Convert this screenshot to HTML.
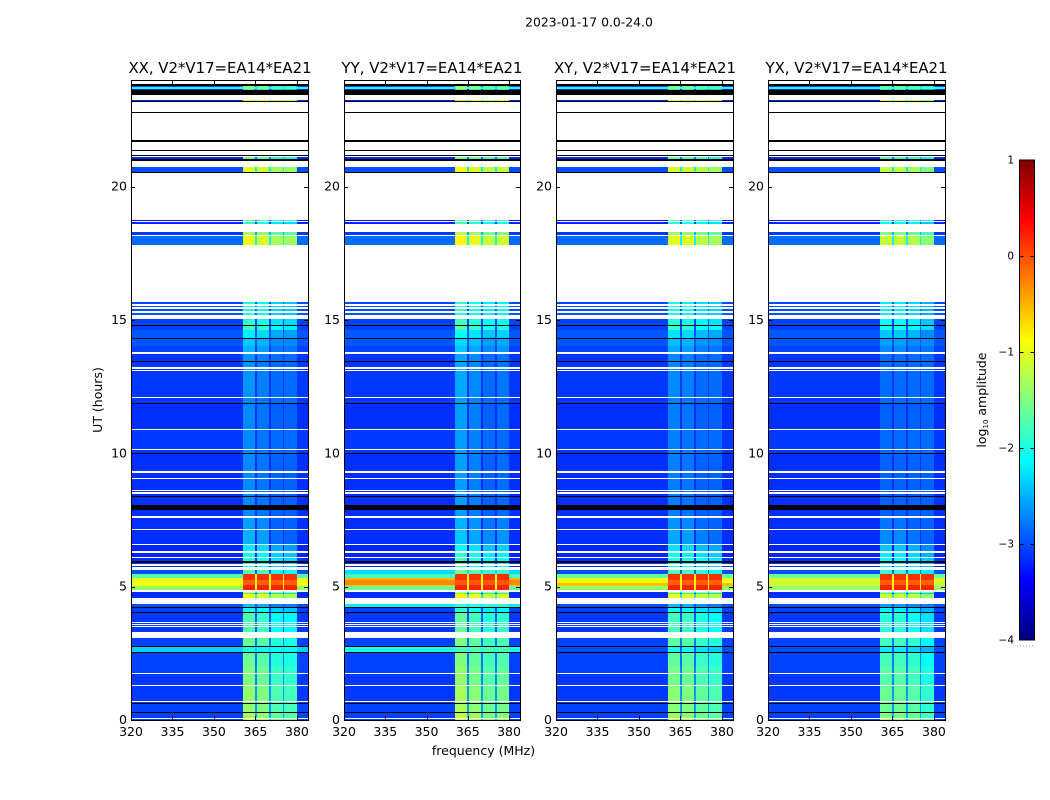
<!DOCTYPE html>
<html>
<head>
<meta charset="utf-8">
<title>2023-01-17 spectrogram</title>
<style>
html,body{margin:0;padding:0;background:#fff;width:1050px;height:800px;overflow:hidden}
svg{display:block}
text{font-family:"DejaVu Sans","Liberation Sans",sans-serif;fill:#000}
</style>
</head>
<body>
<svg id="chart" width="1050" height="800" viewBox="0 0 1050 800" xmlns="http://www.w3.org/2000/svg">
  <defs><linearGradient id="jetGrad" x1="0" y1="1" x2="0" y2="0"></linearGradient></defs>
  <text x="589" y="26.5" font-size="12.4" text-anchor="middle">2023-01-17 0.0-24.0</text>
  <text x="220" y="73" font-size="14.9" text-anchor="middle">XX, V2*V17=EA14*EA21</text>
  <text x="432" y="73" font-size="14.9" text-anchor="middle">YY, V2*V17=EA14*EA21</text>
  <text x="645" y="73" font-size="14.9" text-anchor="middle">XY, V2*V17=EA14*EA21</text>
  <text x="856.5" y="73" font-size="14.9" text-anchor="middle">YX, V2*V17=EA14*EA21</text>
  <text transform="translate(102,400) rotate(-90)" font-size="12.5" text-anchor="middle">UT (hours)</text>
  <text x="483.5" y="755" font-size="12.5" text-anchor="middle">frequency (MHz)</text>
  <text transform="translate(986,400) rotate(-90)" font-size="12.5" text-anchor="middle">log<tspan font-size="7" dy="2">10</tspan><tspan dy="-2"> amplitude</tspan></text>
  <g id="panels"></g>
  <g id="colorbar"></g>
</svg>
<script>
// ---- chart data ----
const W = null;   // flagged (white)
const K = -9;     // zero amplitude (black)

// frequency axis
const freqTicks = [320, 335, 350, 365, 380];
const freqMin = 320;
const freqMax = 384;
// frequency segment edges in MHz
const freqEdges = [320, 360.5, 364.9, 365.5, 369.9, 370.5, 374.9, 375.5, 379.9, 384];
// segment role: -1 quiet background, 0..3 RFI sub-band, 9 gap between sub-bands
const freqRoles = [-1, 0, 9, 1, 9, 2, 9, 3, -1];

// time axis
const utTicks = [0, 5, 10, 15, 20];
const utMin = 0;
const utMax = 24;

// top edge (UT hours) of every time band, top of plot to bottom
const bandTopUT = [
 24.00,23.85,23.79,23.72,23.68,23.63,23.44,23.25,23.21,23.18,
 22.80,22.76,21.75,21.69,21.38,21.34,21.19,21.15,21.11,21.02,
 20.96,20.74,20.55,20.51,18.75,18.70,18.68,18.60,18.30,18.19,
 18.15,17.83,15.66,15.60,15.53,15.48,15.42,15.33,15.27,15.19,
 15.04,14.81,14.78,14.64,14.61,14.33,14.29,14.04,14.01,13.80,
 13.71,13.46,13.43,13.22,13.18,13.13,13.09,12.11,12.08,11.88,
 11.84,10.90,10.86,10.15,10.11,10.01,9.96,9.32,9.28,9.06,
 9.03,8.63,8.58,8.54,8.49,8.40,8.36,8.06,7.88,7.64,
 7.59,7.15,7.11,6.60,6.56,6.32,6.28,6.11,6.08,5.96,
 5.89,5.85,5.79,5.74,5.63,5.49,5.46,5.33,5.25,5.14,
 5.06,5.03,4.86,4.81,4.76,4.73,4.57,4.35,4.24,4.20,
 4.05,4.01,3.68,3.65,3.60,3.57,3.51,3.47,3.31,3.09,
 2.78,2.73,2.56,2.51,2.23,2.20,2.04,2.01,1.77,1.73,
 1.31,1.28,0.71,0.67,0.64,0.60,0.30,0.26,0.09,0.05
];
// log10 amplitude of the quiet part of the band
const bandBg = [
 W,K,-3,-1.9,-3.2,K,W,-3.2,K,W,
 K,W,K,W,K,W,K,W,-3.2,K,
 W,-3,K,W,-3.3,W,-3.2,W,-3.1,W,
 -2.85,W,-3,W,-3,W,-3,W,-2.95,W,
 -3.05,K,-3.05,W,-2.95,K,-2.95,K,-3.05,W,
 -3.1,K,-3.1,W,-3.15,W,-3.1,W,-3.1,K,
 -3.15,W,-3.1,W,-3.1,K,-3.15,W,-3.15,W,
 -3.15,W,-3.15,W,-3.15,K,-3.15,K,-3.15,W,
 -3.15,W,-3.15,W,-3.2,W,-3.2,W,-3.15,K,
 -3.15,W,-3.15,W,-3,K,-1.7,-1,-1,-.9,
 -.9,-1.4,W,-3.15,-3.2,-3.15,W,-3,K,-3.05,
 K,-3.1,W,-3.1,W,-3.1,W,-3.1,W,-3.05,
 K,-2.35,K,-3.05,W,-3.05,W,-3.05,W,-3.1,
 W,-3.1,W,-3.05,K,-3.05,K,-3.05,W,-3.05
];
// log10 amplitude of the 360-380 MHz interference block
const bandRfi = [
 W,K,-1.6,-1.3,-2,K,W,-.8,K,W,
 K,W,K,W,K,W,K,W,-1.6,K,
 W,-1,K,W,-1.7,W,-1.9,W,-1.3,W,
 -.95,W,-2,W,-2,W,-2,W,-2,W,
 -1.9,K,-1.8,W,-2.2,K,-2.4,K,-2.5,W,
 -2.65,K,-2.65,W,-2.65,W,-2.65,W,-2.7,K,
 -2.7,W,-2.7,W,-2.7,K,-2.7,W,-2.7,W,
 -2.7,W,-2.7,W,-2.7,K,-2.7,K,-2.7,W,
 -2.6,W,-2.5,W,-2.2,W,-2,W,-1.9,K,
 -1.9,W,-2,W,-1.7,K,.15,.15,-.1,-.1,
 .2,.2,W,-.95,-1.9,-.9,W,-2.4,K,-2,
 K,-1.75,W,-1.75,W,-1.75,W,-1.75,W,-1.6,
 K,-2,K,-1.6,W,-1.6,W,-1.5,W,-1.5,
 W,-1.4,W,-1.4,K,-1.4,K,-1.3,W,-1.2
];
// per-polarisation sub-band offsets (log10)
const subbandXX = [0, -.1, -.35, -.4];
const subbandYY = [.1, -.05, -.2, -.15];
const subbandXY = [-.05, -.1, -.25, -.35];
const subbandYX = [-.2, -.2, -.3, -.5];
// per-polarisation background overrides: UT inside a band, level
const overrideYY = [[5.6,-2.3],[5.4,-1.8],[5.3,-.5],[5.2,-.3],[5.1,-.3],[5.05,-.6],[4.95,-1.6],[4.3,-2.2],[2.65,-2.0]];
const overrideXY = [[5.4,-1.6],[5.3,-1.0],[5.2,-.9],[5.1,-.55],[5.05,-.6],[2.65,-3]];
const overrideYX = [[5.4,-1.6],[5.3,-1.1],[5.2,-1.1],[5.1,-1.1],[5.05,-1.2],[2.65,-3]];
const overrideXX = [];
const polNames = ['xx', 'yy', 'xy', 'yx'];

// colorbar
const cbarTicks = [1, 0, -1, -2, -3, -4];
const cbarMin = -4;
const cbarMax = 1;

// ---- layout ----
const panelLefts = [131, 344, 556, 768];
const panelWidths = [177, 176, 177, 177];
const plotTop = 80, plotBottom = 720;
const SVGNS = 'http://www.w3.org/2000/svg';
const panelsG = document.getElementById('panels');
const cbarG = document.getElementById('colorbar');

function make(tag, attrs, parent) {
  const el = document.createElementNS(SVGNS, tag);
  for (const k in attrs) el.setAttribute(k, attrs[k]);
  parent.appendChild(el);
  return el;
}
function xScale(left, width, f) { return left + (f - freqMin) / (freqMax - freqMin) * width; }
function yScale(ut) { return plotBottom - (ut - utMin) / (utMax - utMin) * (plotBottom - plotTop); }
function jetChan(x) { return Math.max(0, Math.min(1, 1.5 - Math.abs(4 * x))); }
function jet(t) {
  t = Math.max(0, Math.min(1, t));
  const r = jetChan(t - .75), g = jetChan(t - .5), b = jetChan(t - .25);
  return 'rgb(' + Math.round(r * 255) + ',' + Math.round(g * 255) + ',' + Math.round(b * 255) + ')';
}
function levelColor(v) {
  if (v === K) return '#000';
  return jet((v - cbarMin) / (cbarMax - cbarMin));
}
function bgFor(overrides, i) {
  const top = bandTopUT[i];
  const bottom = i + 1 < bandTopUT.length ? bandTopUT[i + 1] : 0;
  for (const o of overrides) if (o[0] <= top && o[0] > bottom) return o[1];
  return bandBg[i];
}

const subbandsByPanel = [subbandXX, subbandYY, subbandXY, subbandYX];
const overridesByPanel = [overrideXX, overrideYY, overrideXY, overrideYX];

panelLefts.forEach(function (left, p) {
  const width = panelWidths[p];
  const g = make('g', {}, panelsG);
  
  
  for (let i = 0; i < bandTopUT.length; i++) {
    if (bandBg[i] === W) continue;
    const yA = Math.round(yScale(bandTopUT[i]));
    const yB = Math.round(yScale(i + 1 < bandTopUT.length ? bandTopUT[i + 1] : 0));
    const bg = bgFor(overridesByPanel[p], i);
    for (let s = 0; s < freqRoles.length; s++) {
      const role = freqRoles[s];
      let v = bg;
      if (bandRfi[i] === K) v = K;
      else if (role === 9) v = bandRfi[i] > -.5 ? -.9 : Math.max(bg, bandRfi[i] - 1.2);
      else if (role >= 0) v = Math.max(bg + .25, bandRfi[i] + (bandRfi[i] > -.5 ? 0 : subbandsByPanel[p][role]));
      const xA = Math.round(xScale(left, width, freqEdges[s]));
      const xB = Math.round(xScale(left, width, freqEdges[s + 1]));
      const r = make('rect', { x: xA, y: yA, width: xB - xA, height: Math.max(0, yB - yA), fill: levelColor(v), 'shape-rendering': 'crispEdges' }, g);
      
      
    }
  }
  // frame
  const frame = make('rect', { x: left + .5, y: plotTop + .5, width: width, height: plotBottom - plotTop, fill: 'none', stroke: '#000', 'stroke-width': 1 }, g);
  
  
  // x ticks
  freqTicks.forEach(function (f) {
    const x = Math.round(xScale(left, width, f)) + .5;
    const t1 = make('line', { x1: x, x2: x, y1: plotBottom, y2: plotBottom - 4, stroke: '#000', 'stroke-width': 1 }, g);
    
    
    const t2 = make('line', { x1: x, x2: x, y1: plotTop, y2: plotTop + 4, stroke: '#000', 'stroke-width': 1 }, g);
    
    
    const lab = make('text', { x: xScale(left, width, f), y: 736, 'font-size': 12.5, 'text-anchor': 'middle' }, g);
    lab.textContent = String(f);
    
    
  });
  // y ticks
  utTicks.forEach(function (u) {
    const y = Math.round(yScale(u)) + .5;
    const t1 = make('line', { x1: left, x2: left + 4, y1: y, y2: y, stroke: '#000', 'stroke-width': 1 }, g);
    
    
    const t2 = make('line', { x1: left + width, x2: left + width - 4, y1: y, y2: y, stroke: '#000', 'stroke-width': 1 }, g);
    
    
    const lab = make('text', { x: left - 4, y: yScale(u) + 4, 'font-size': 12.5, 'text-anchor': 'end' }, g);
    lab.textContent = String(u);
    
    
  });
});

// ---- colorbar ----
const grad = document.getElementById('jetGrad');
for (let i = 0; i <= 64; i++) {
  make('stop', { offset: (i / 64).toFixed(4), 'stop-color': jet(i / 64) }, grad);
}
const cbX = 1019.5, cbW = 15, cbTop = 160, cbBottom = 640;
function cbY(v) { return cbBottom - (v - cbarMin) / (cbarMax - cbarMin) * (cbBottom - cbTop); }
const cbRect = make('rect', { x: cbX, y: cbTop, width: cbW, height: cbBottom - cbTop, fill: 'url(#jetGrad)', stroke: '#000', 'stroke-width': 1 }, cbarG);


cbarTicks.forEach(function (v) {
  const y = Math.round(cbY(v)) + .5;
  if (v !== cbarMin && v !== cbarMax) {
    const a = make('line', { x1: cbX, x2: cbX + 4, y1: y, y2: y, stroke: '#000' }, cbarG);
    
    
    const b = make('line', { x1: cbX + cbW, x2: cbX + cbW - 4, y1: y, y2: y, stroke: '#000' }, cbarG);
    
    
  }
  const lab = make('text', { x: 1014, y: cbY(v) + 3.5, 'font-size': 10.5, 'text-anchor': 'end' }, cbarG);
  lab.textContent = String(v).replace('-', '\u2212');
  
  
});
const dots = make('line', { x1: 1017, x2: 1035, y1: 646, y2: 646, stroke: '#999', 'stroke-width': 1, 'stroke-dasharray': '1 2' }, cbarG);


</script>
</body>
</html>
